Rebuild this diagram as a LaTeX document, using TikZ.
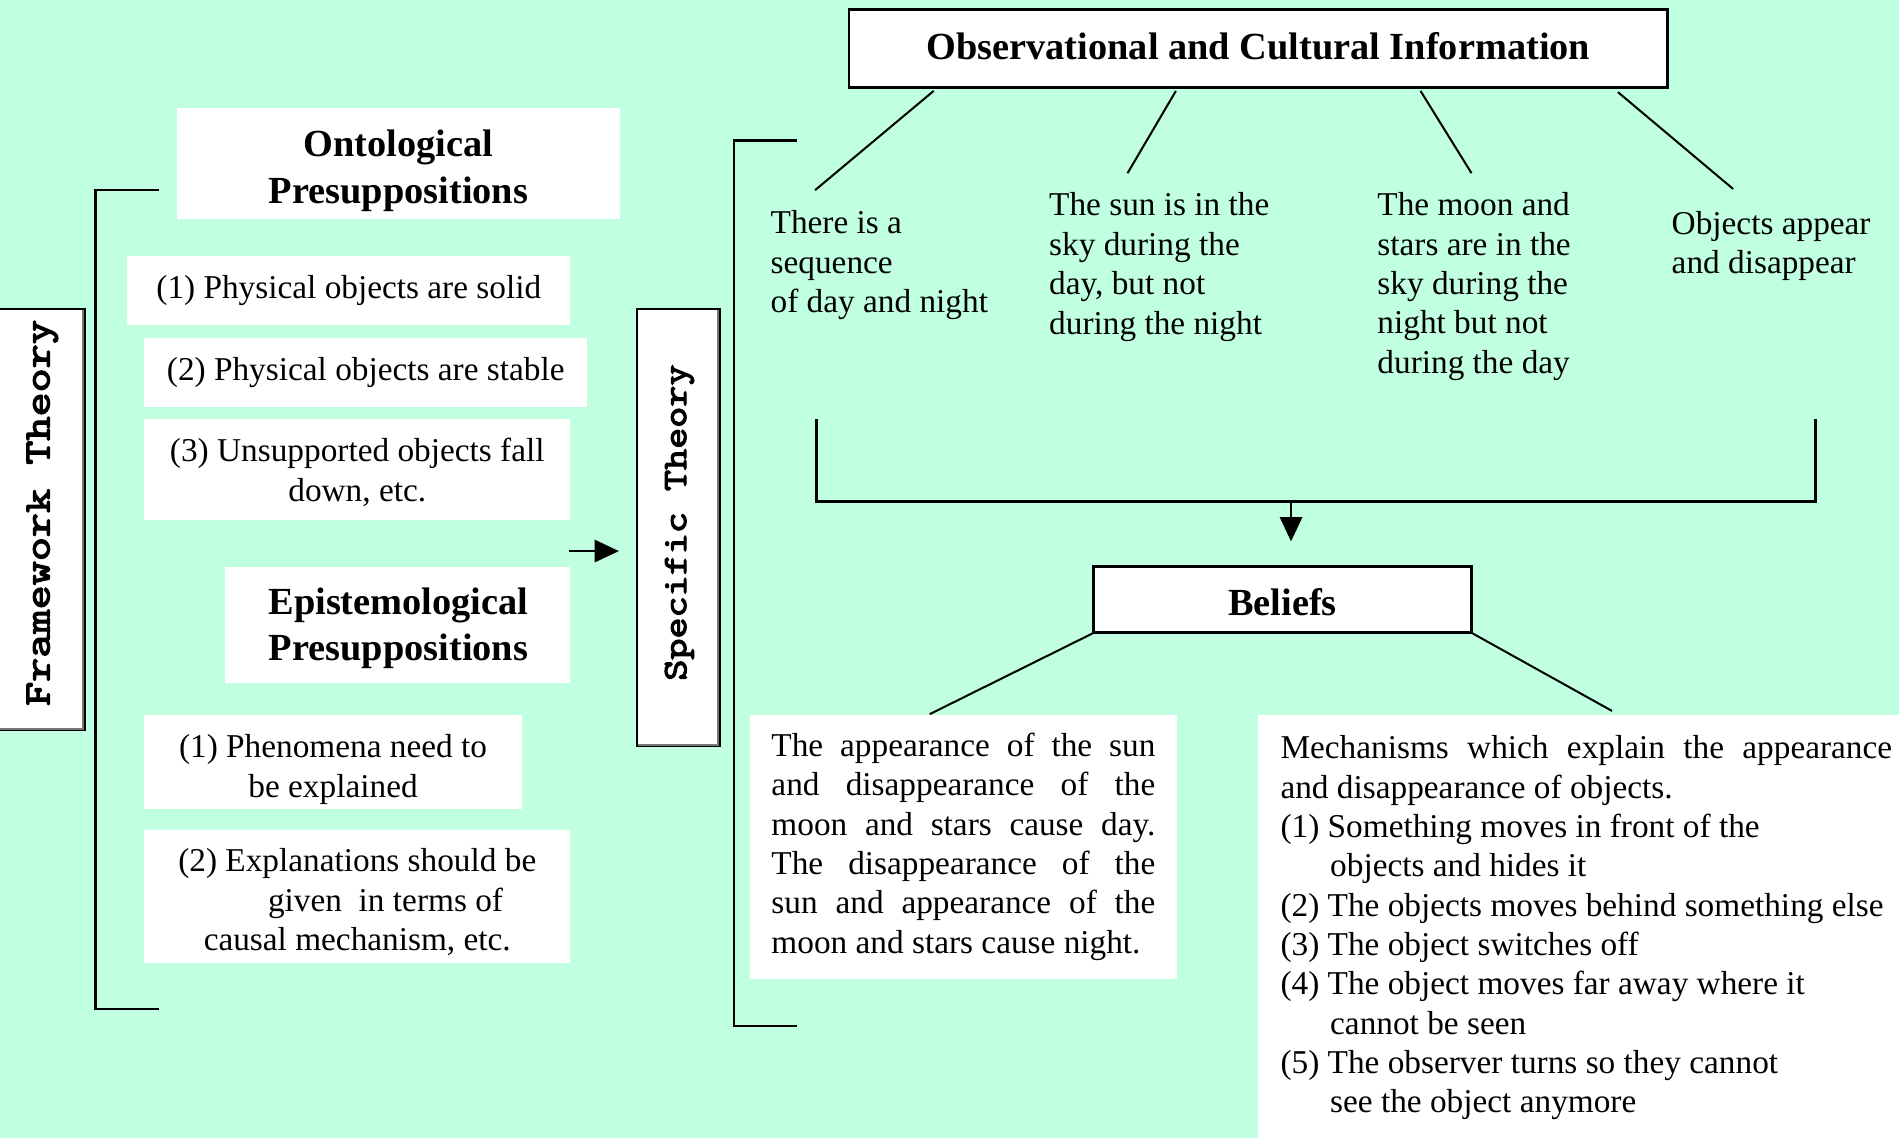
\documentclass[tikz,border=0pt]{standalone}
\usepackage{fontspec}
\usepackage{graphicx}
\setmainfont{Liberation Serif}
\newfontfamily\slabfont{lmmono10-regular.otf}[FakeBold=3]
\usetikzlibrary{arrows.meta,calc}
\definecolor{mint}{RGB}{192,255,224}
\definecolor{bevel}{RGB}{120,120,120}

\begin{document}
\begin{tikzpicture}[x=0.6pt,y=-0.6pt,
  body/.style={font=\fontsize{16.5}{19.5}\selectfont},
  head/.style={font=\fontsize{19}{22.8}\selectfont\bfseries},
  panel/.style={fill=white,inner sep=0pt},
  label/.style={inner sep=0pt,align=center},
  framed/.style={fill=white,draw=black,line width=1.3pt,inner sep=0pt},
  sidebox/.style={fill=white,draw=black,line width=1.1pt,inner sep=0pt},
  sidetext/.style={rotate=90,inner sep=0pt},
  note/.style={body,align=left,anchor=west,inner sep=0pt},
  link/.style={line width=1pt},
  brace/.style={line width=1.2pt},
  arr/.style={line width=1.2pt,-{Triangle[length=12pt,width=11pt]}},
  ]

\useasboundingbox (0,0) rectangle (1568,940);
\fill[mint] (0,0) rectangle (1568,940);

% ---------- framework theory column ----------
\node[sidebox,minimum width=43.8pt,minimum height=208.8pt] (fw) at (33.5,429) {};
\draw[bevel,line width=1pt] ([shift={(-1.2pt,-1pt)}]fw.north east) -- ([shift={(-1.2pt,1.2pt)}]fw.south east) -- ([shift={(1pt,1.2pt)}]fw.south west);
\node[sidetext,font=\fontsize{18.5}{22}\selectfont\slabfont] (fwt) at (35,423.5) {\scalebox{1.23}[1]{Framework Theory}};

\coordinate (lbt) at (131,157);
\coordinate (lbb) at (131,833);
\draw[brace] (lbt) -- (79,157) -- (79,833) -- (lbb);

% ontological presuppositions
\node[panel,minimum width=219.6pt,minimum height=55.2pt] (onto) at (329,135) {};
\node[label,head] (ontoT) at (329,141) {Ontological\\Presuppositions};
\node[panel,minimum width=219.6pt,minimum height=34.2pt] (o1) at (288,239.5) {};
\node[label,body] (o1T) at (288,239.5) {(1) Physical objects are solid};
\node[panel,minimum width=219.6pt,minimum height=34.2pt] (o2) at (302,307.5) {};
\node[label,body] (o2T) at (302,307.5) {(2) Physical objects are stable};
\node[panel,minimum width=211.2pt,minimum height=49.8pt] (o3) at (295,387.5) {};
\node[label,body] (o3T) at (295,390) {(3) Unsupported objects fall\\down, etc.};

% epistemological presuppositions
\node[panel,minimum width=171pt,minimum height=57.6pt] (epi) at (328.5,516) {};
\node[label,head] (epiT) at (329,519) {Epistemological\\Presuppositions};
\node[panel,minimum width=187.2pt,minimum height=46.8pt] (e1) at (275,629) {};
\node[label,body] (e1T) at (275,635.5) {(1) Phenomena need to\\be explained};
\node[panel,minimum width=211.2pt,minimum height=66pt] (e2) at (295,740) {};
\node[label,body] (e2T) at (295,745) {(2) Explanations should be\\\hspace*{28pt}given\ \ in terms of\\causal mechanism, etc.};

% ---------- arrow into the specific theory ----------
\coordinate (a1) at (470,455);
\coordinate (a2) at (511,455);
\draw[arr] (a1) -- (a2);

% ---------- specific theory column ----------
\node[sidebox,minimum width=40.8pt,minimum height=216.6pt] (st) at (560,435.5) {};
\draw[bevel,line width=1pt] ([shift={(-1.2pt,-1pt)}]st.north east) -- ([shift={(-1.2pt,1.2pt)}]st.south east) -- ([shift={(1pt,1.2pt)}]st.south west);
\node[sidetext,font=\fontsize{17}{20}\selectfont\slabfont] (stt) at (561,431.5) {\scalebox{1.17}[1]{Specific Theory}};

\coordinate (rbt) at (658,116);
\coordinate (rbb) at (658,847);
\draw[brace] (rbt) -- (606,116) -- (606,847) -- (rbb);

% ---------- observations ----------
\node[framed,minimum width=405.6pt,minimum height=38.4pt] (obs) at (1039,40) {};
\node[label,head] (obsT) at (1039,38.5) {Observational and Cultural Information};

\node[note] (t1) at (636,219) {There is a\\sequence\\of day and night};
\node[note] (t2) at (866,220.5) {The sun is in the\\sky during the\\day, but not\\during the night};
\node[note] (t3) at (1137,236.5) {The moon and\\stars are in the\\sky during the\\night but not\\during the day};
\node[note] (t4) at (1380,203) {Objects appear\\and disappear};

\coordinate (t1e) at (673,157);
\coordinate (t2e) at (931,143);
\coordinate (t3e) at (1215,143);
\coordinate (t4e) at (1431,156);
\draw[link] ($(obs.south west)+(71,2)$) -- (t1e);
\draw[link] ($(obs.south west)+(271,2)$) -- (t2e);
\draw[link] ($(obs.south west)+(473,2)$) -- (t3e);
\draw[link] ($(obs.south west)+(636,3)$) -- (t4e);

% ---------- gathering bracket and beliefs ----------
\coordinate (gl) at (674,346);
\coordinate (gr) at (1499,346);
\draw[brace] (gl) -- (674,414) -- (1499,414) -- (gr);
\coordinate (gm) at (1066,414);
\coordinate (gtip) at (1066,447);
\draw[arr] (gm) -- (gtip);

\node[framed,minimum width=187.2pt,minimum height=32.4pt] (bel) at (1059,495) {};
\node[label,head] (belT) at (1059,497) {Beliefs};

\node[fill=white,body,inner xsep=10.8pt,inner ysep=0pt,text width=190.2pt,align=justify,minimum height=130.8pt] (lbel) at (795.5,699)
  {The appearance of the sun\linebreak and disappearance of the\linebreak moon and stars cause day.\linebreak The disappearance of the\linebreak sun and appearance of the\linebreak moon and stars cause night.};

\node[fill=white,inner sep=0pt,minimum width=322pt,minimum height=214pt,anchor=north west] (rbel) at (1038,590) {};
\node[body,anchor=north west,inner sep=0pt] (rtext) at ($(rbel.north west)+(19,17)$) {\parbox[t]{303pt}{%
  \setlength{\parindent}{0pt}%
  Mechanisms which explain the appearance\linebreak and disappearance of objects.\par
  {\raggedright
  \hangindent=24.6pt\hangafter=1 (1) Something moves in front of the\newline objects and hides it\par
  \hangindent=24.6pt\hangafter=1 (2) The objects moves behind something else\par
  \hangindent=24.6pt\hangafter=1 (3) The object switches off\par
  \hangindent=24.6pt\hangafter=1 (4) The object moves far away where it\newline cannot be seen\par
  \hangindent=24.6pt\hangafter=1 (5) The observer turns so they cannot\newline see the object anymore\par}}};

\coordinate (rb1) at (1331,587);
\draw[link] (bel.south west) -- ($(lbel.north west)+(149,0)$);
\draw[link] (bel.south east) -- (rb1);

\end{tikzpicture}
\end{document}
